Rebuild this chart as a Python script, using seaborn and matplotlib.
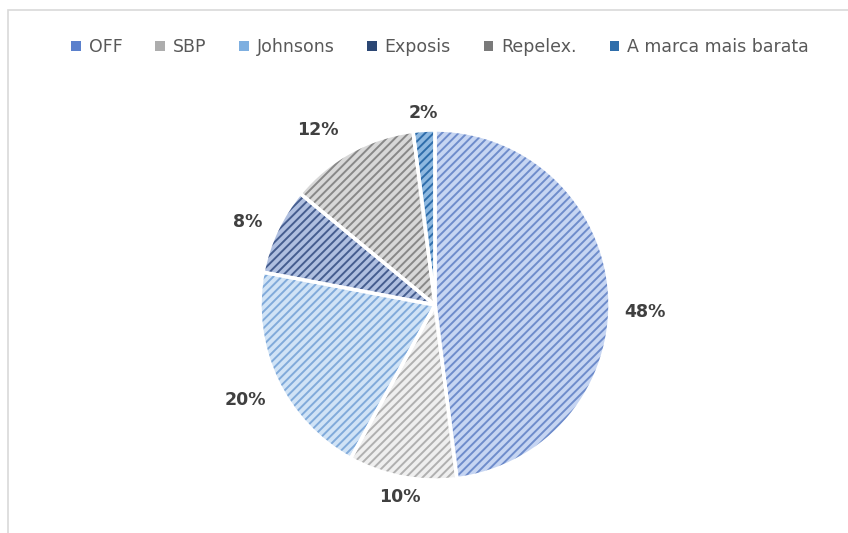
import matplotlib
matplotlib.use("Agg")
import numpy as np
import matplotlib.pyplot as plt
from matplotlib.patches import Patch, Rectangle
import seaborn as sns

categories = ["OFF", "SBP", "Johnsons", "Exposis", "Repelex.", "A marca mais barata"]
values = [48, 10, 20, 8, 12, 2]
face_colors = ["#C6D5F2", "#EFEFEF", "#D0E3F6", "#AFBFE0", "#D8D8D8", "#8DB8E0"]
hatch_colors = ["#6E8CCB", "#B0B0B0", "#80AADA", "#455D8F", "#888888", "#2E6DAA"]
legend_colors = ["#5B80CC", "#ADADAD", "#7EAFE0", "#2C4774", "#7A7A7A", "#2E6DAA"]
# label placement (style): distance in radii and angle offset in degrees
label_dist = [1.20, 1.115, 1.215, 1.17, 1.20, 1.10]
label_off = [-5.5, 0.5, 1.4, 1.3, 5.0, 0.0]

sns.set_theme(style="white")
plt.rcParams["font.family"] = ["DejaVu Sans"]
plt.rcParams["hatch.linewidth"] = 1.4

W, H = 848, 533
fig = plt.figure(figsize=(W / 100, H / 100), dpi=100)
fig.patch.set_facecolor("white")

fig.add_artist(Rectangle((8 / W, -0.05), 1.2, 1 - 10 / H + 0.05, transform=fig.transFigure,
                         fill=False, edgecolor="#D9D9D9", linewidth=1.2))

cx, cy, r = 435, 305, 175
ax = fig.add_axes([(cx - r) / W, (H - cy - r) / H, 2 * r / W, 2 * r / H])

# base fill
wedges, texts, autotexts = ax.pie(
    values, startangle=90, counterclock=False, colors=face_colors,
    autopct=lambda p: f"{p:.0f}%", pctdistance=1.17,
    wedgeprops=dict(linewidth=0),
    textprops=dict(fontsize=12.5, fontweight="bold", color="#404040"),
)
# hatch layer
hw, _ = ax.pie(values, startangle=90, counterclock=False,
               wedgeprops=dict(linewidth=0, hatch="////"))
for w, hc in zip(hw, hatch_colors):
    w.set_facecolor("none")
    w.set_edgecolor(hc)
    w.set_linewidth(0)
# white separators
bw, _ = ax.pie(values, startangle=90, counterclock=False,
               wedgeprops=dict(linewidth=2.5))
for w in bw:
    w.set_facecolor("none")
    w.set_edgecolor("white")

for w, t, d, off in zip(wedges, autotexts, label_dist, label_off):
    mid = np.deg2rad((w.theta1 + w.theta2) / 2 + off)
    t.set_position((d * np.cos(mid), d * np.sin(mid)))
ax.set_xlim(-1, 1)
ax.set_ylim(-1, 1)
ax.set_aspect("equal")
ax.axis("off")

handles = [Patch(facecolor=c, edgecolor="none", label=lab) for c, lab in zip(legend_colors, categories)]
leg = fig.legend(handles=handles, loc="center", bbox_to_anchor=(440 / W, 1 - 47 / H), ncol=6,
                 frameon=False, fontsize=12.5, handlelength=0.55, handleheight=0.55,
                 handletextpad=0.45, columnspacing=1.9)
for t in leg.get_texts():
    t.set_color("#595959")

fig.savefig("out.png", dpi=100)
